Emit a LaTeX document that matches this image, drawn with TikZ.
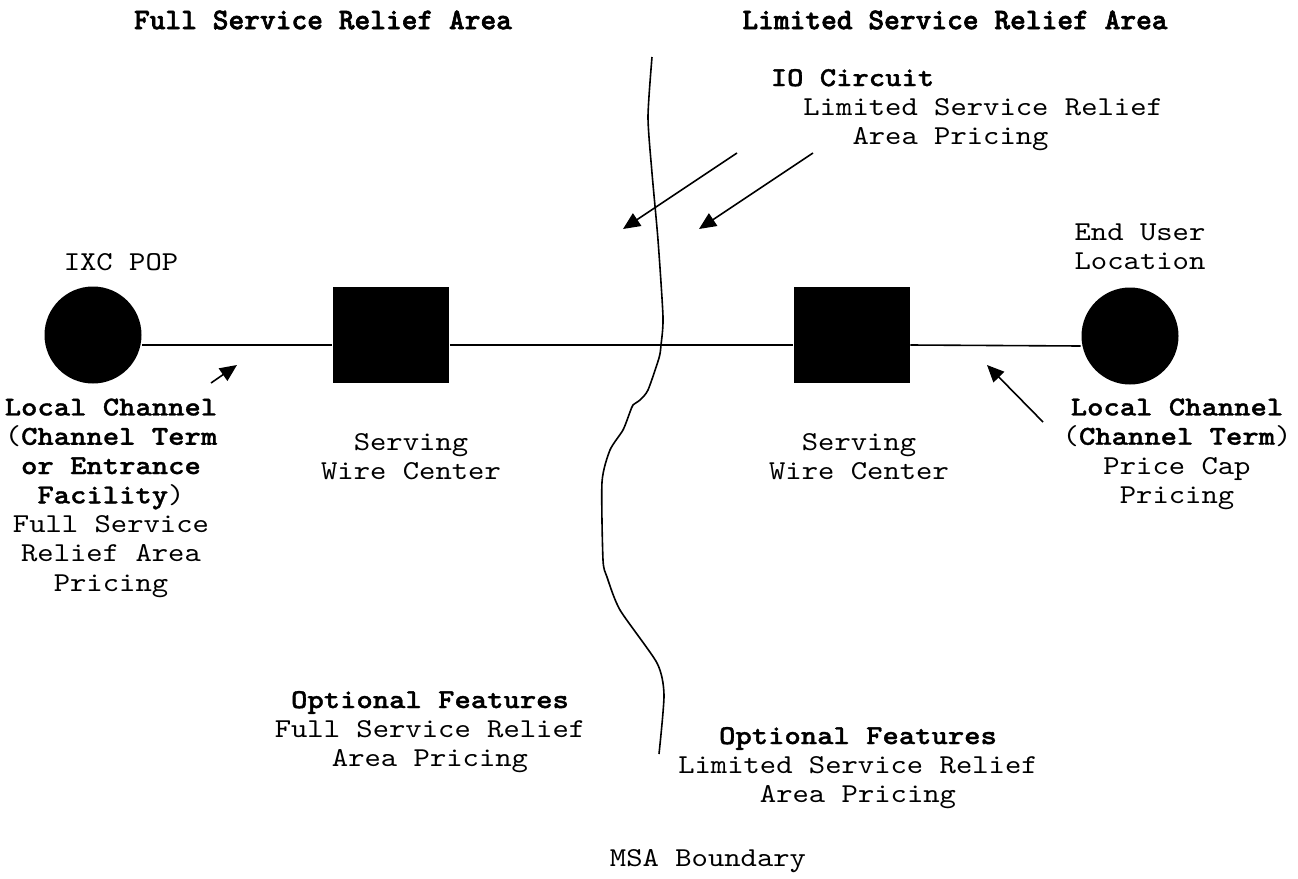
\documentclass[tikz,border=0pt]{standalone}
\usepackage{fontspec}
\setmonofont{lmmono10-regular}[Extension=.otf, BoldFont=lmmonolt10-bold, BoldFeatures={FakeBold=1.2}, FakeStretch=1.14]
\newfontfamily\titlefont{lmmonolt10-bold}[Extension=.otf, FakeBold=2]
\usetikzlibrary{arrows.meta}
\tikzstyle{every picture} = [x=1pt, y=1pt, line width=1.6pt, font=\ttfamily\fontsize{27.3pt}{29.3pt}\selectfont]
\tikzset{
  site/.style={circle, fill=black, minimum size=97pt, inner sep=0pt},
  office/.style={rectangle, fill=black, minimum width=116pt, minimum height=96pt, inner sep=0pt},
  caption/.style={align=center, inner sep=0pt},
  area/.style={inner sep=0pt, font=\titlefont\fontsize{30pt}{30pt}\selectfont},
  pointer/.style={-{Triangle[length=17pt, width=15pt]}},
}

\begin{document}
\begin{tikzpicture}
    \useasboundingbox (0,0) rectangle (1298,-878);

    % area titles
    \node (full title) [area] at (323,-20) {Full Service Relief Area};
    \node (limited title) [area] at (955,-20) {Limited Service Relief Area};

    % sites and wire centers
    \node (ixc) [site] at (93,-335) {};
    \node (wc1) [office] at (391,-335) {};
    \node (wc2) [office] at (851.5,-335) {};
    \node (eu) [site] at (1130,-336) {};

    \foreach \a/\b in {ixc/wc1, wc1/wc2, wc2/eu}
        \draw ([yshift=-10pt]\a.east) -- ([yshift=-10pt]\b.west);

    % labels
    \node (ixc label) [caption] at (121,-262) {IXC POP};
    \node (eu label) [caption] at (1140,-247) {End User\\Location};
    \node (wc1 label) [caption] at (411,-457) {Serving\\Wire Center};
    \node (wc2 label) [caption] at (859,-457) {Serving\\Wire Center};
    \node (lc left) [caption] at (111,-498) {\textbf{Local Channel}\\(\textbf{Channel Term}\\\textbf{or Entrance}\\\textbf{Facility})\\Full Service\\Relief Area\\Pricing};
    \node (lc right) [caption] at (1177,-454) {\textbf{Local Channel}\\(\textbf{Channel Term})\\Price Cap\\Pricing};
    \node (io label) [align=left, inner sep=0pt, anchor=west] at (770,-110) {\textbf{IO Circuit}\\\hphantom{xx}Limited Service Relief\\\hphantom{xxxxx}Area Pricing};
    \node (opt left) [caption] at (430,-732) {\textbf{Optional Features}\\Full Service Relief\\Area Pricing};
    \node (opt right) [caption] at (858,-768) {\textbf{Optional Features}\\Limited Service Relief\\Area Pricing};
    \node (msa label) [caption] at (708,-861) {MSA Boundary};

    % MSA boundary
    \draw plot[smooth, tension=0.4] coordinates {(652,-57) (648,-117) (652,-173) (658,-240) (663,-317) (661,-345) (659,-358) (648,-390) (640,-400) (633,-405) (630,-412) (623,-430) (610,-450) (602,-482) (603,-560) (607,-577) (620,-610) (657,-663) (664,-695) (659,-754)};

    % pointers
    \coordinate (io tail a) at (737,-153);
    \coordinate (io head a) at (623,-229);
    \coordinate (io tail b) at (813,-153);
    \coordinate (io head b) at (699,-229);
    \coordinate (lc tail l) at (211,-383);
    \coordinate (lc head l) at (237,-365);
    \coordinate (lc tail r) at (1043,-422);
    \coordinate (lc head r) at (987,-365);
    \draw[pointer] (io tail a) -- (io head a);
    \draw[pointer] (io tail b) -- (io head b);
    \draw[pointer] (lc tail l) -- (lc head l);
    \draw[pointer] (lc tail r) -- (lc head r);
\end{tikzpicture}
\end{document}
